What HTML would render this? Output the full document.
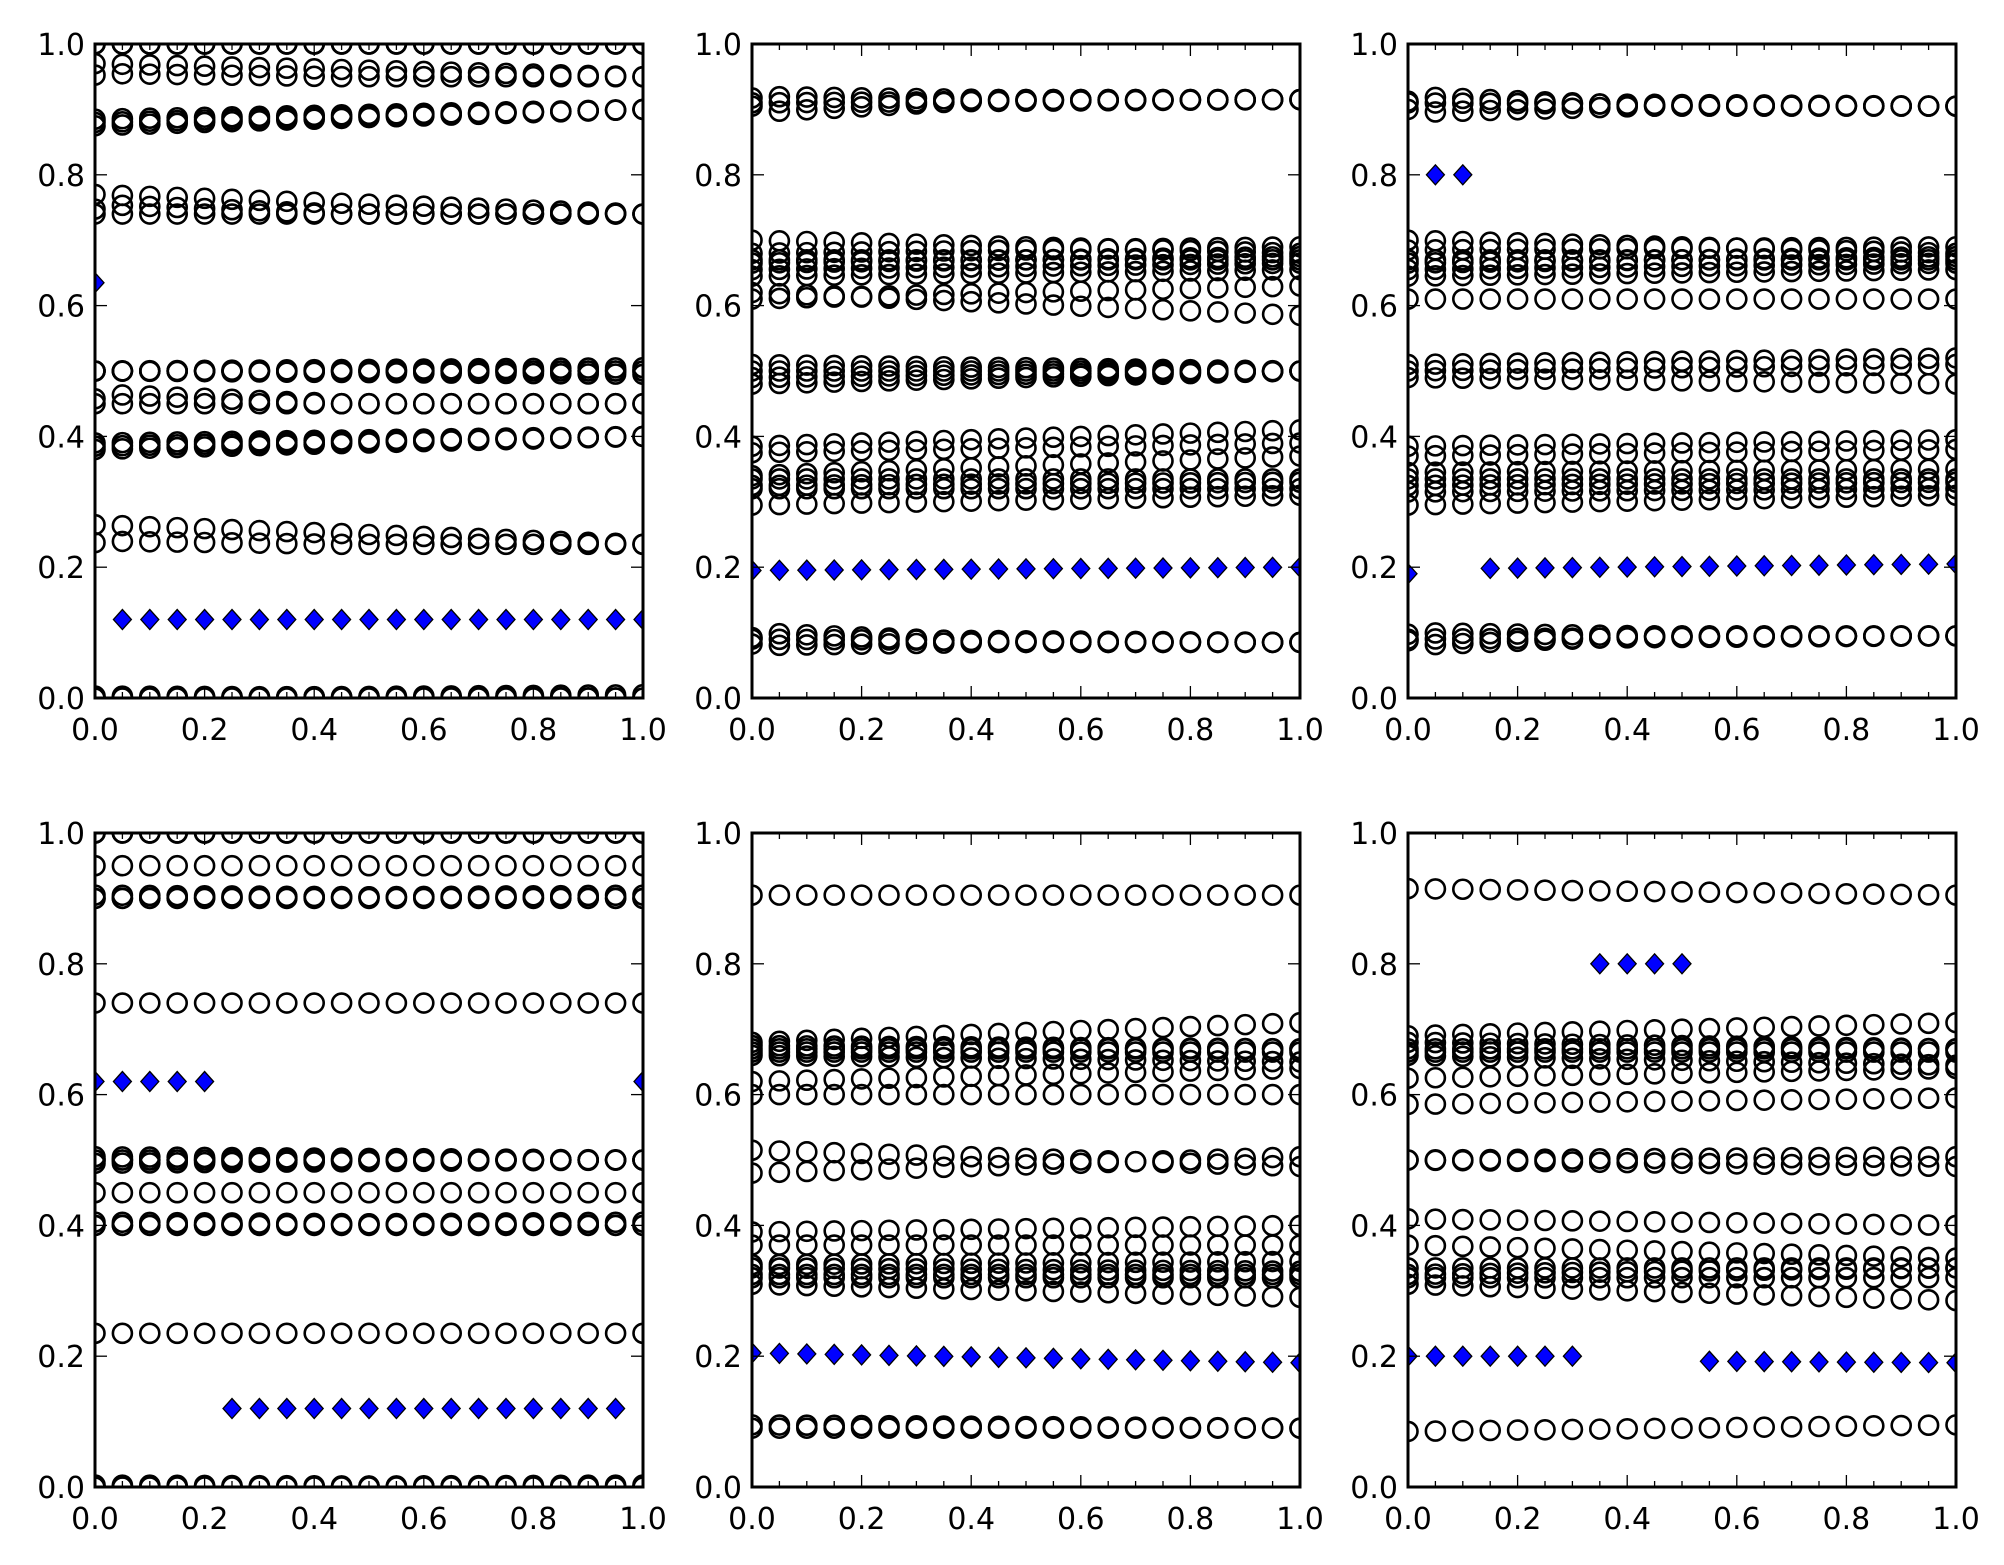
<!DOCTYPE html>
<html><head><meta charset="utf-8">
<style>html,body{margin:0;padding:0;background:#fff;}svg{display:block}</style>
</head><body>
<svg id="s" xmlns="http://www.w3.org/2000/svg" width="2004" height="1565" viewBox="0 0 2004 1565"></svg>
<script>
const NS="http://www.w3.org/2000/svg";
const svg=document.getElementById('s');
const W=548,H=654;
const panels=[
 {x:95,y:44,c:[[1,1],[1,1],[1,1],[0.97,0.95],[0.955,0.95,1],[0.88,0.9],[0.885,0.9],[0.875,0.9],[0.77,0.74],[0.755,0.74,1],[0.74,0.74,1],[0.5,0.5],[0.5,0.505],[0.5,0.495],[0.5,0.5],[0.465,0.45,1],[0.45,0.45],[0.385,0.4],[0.39,0.4],[0.38,0.4],[0.265,0.235],[0.24,0.235,1],[0,0],[0,0.005],[0.003,0]],
  d:[{y:[0.12,0.12],from:1,to:20},{y:[0.635,0.635],from:0,to:0}]},
 {x:752,y:44,c:[[0.91,0.915],[0.92,0.915,1],[0.895,0.915,1],[0.70,0.68],[0.68,0.69],[0.67,0.67],[0.665,0.675],[0.655,0.665],[0.645,0.655],[0.61,0.63],[0.62,0.585],[0.51,0.5],[0.5,0.5],[0.49,0.5],[0.48,0.5],[0.385,0.41],[0.375,0.39],[0.34,0.37],[0.335,0.335],[0.325,0.33],[0.32,0.32],[0.295,0.31],[0.1,0.085,1],[0.08,0.085,1],[0.09,0.085]],
  d:[{y:[0.195,0.2],from:0,to:20}]},
 {x:1408,y:44,c:[[0.91,0.905],[0.92,0.905,1],[0.895,0.905,1],[0.70,0.68],[0.685,0.69],[0.67,0.67],[0.665,0.675],[0.655,0.665],[0.645,0.655],[0.61,0.61],[0.5,0.51],[0.51,0.52],[0.49,0.48],[0.385,0.395],[0.37,0.38],[0.345,0.35],[0.335,0.335],[0.325,0.33],[0.315,0.32],[0.295,0.31],[0.1,0.095,1],[0.08,0.095,1],[0.09,0.095]],
  d:[{y:[0.8,0.8],from:1,to:2},{y:[0.19,0.19],from:0,to:0},{y:[0.197,0.205],from:3,to:20}]},
 {x:95,y:833,c:[[1,1],[1,1],[1,1],[0.95,0.95],[0.9,0.9],[0.905,0.9],[0.9,0.905],[0.74,0.74],[0.5,0.5],[0.505,0.5],[0.495,0.5],[0.5,0.5],[0.45,0.45],[0.4,0.4],[0.405,0.4],[0.4,0.405],[0.235,0.235],[0,0],[0.003,0],[0,0.003]],
  d:[{y:[0.62,0.62],from:0,to:4},{y:[0.62,0.62],from:20,to:20},{y:[0.12,0.12],from:5,to:19}]},
 {x:752,y:833,c:[[0.905,0.905],[0.68,0.71],[0.675,0.67],[0.67,0.67],[0.665,0.665],[0.66,0.65],[0.62,0.64],[0.6,0.6],[0.515,0.49],[0.48,0.505],[0.39,0.4],[0.37,0.37],[0.34,0.345],[0.335,0.33],[0.325,0.325],[0.32,0.32],[0.31,0.29],[0.09,0.09],[0.095,0.09]],
  d:[{y:[0.205,0.19],from:0,to:20}]},
 {x:1408,y:833,c:[[0.915,0.905],[0.69,0.71],[0.68,0.67],[0.67,0.67],[0.665,0.665],[0.66,0.645],[0.625,0.64],[0.585,0.595],[0.5,0.505],[0.5,0.49],[0.41,0.4],[0.37,0.35],[0.335,0.335],[0.325,0.335],[0.32,0.32],[0.31,0.285],[0.085,0.095]],
  d:[{y:[0.2,0.2],from:0,to:6},{y:[0.8,0.8],from:7,to:10},{y:[0.195,0.19],from:11,to:20}]}
];
function el(t,a,p){const e=document.createElementNS(NS,t);for(const k in a)e.setAttribute(k,a[k]);(p||svg).appendChild(e);return e;}
panels.forEach((p,i)=>{
  const defs=el('defs',{});const cp=el('clipPath',{id:'c'+i},defs);el('rect',{x:p.x,y:p.y,width:W,height:H},cp);
  const g=el('g',{'clip-path':'url(#c'+i+')'});
  const X=v=>p.x+v*W, Y=v=>p.y+H-v*H;
  p.c.forEach(s=>{
    for(let k=0;k<=20;k++){
      const t=k/20;let v;
      if(s[2]){
        const f=Math.min(1,t/0.45);v=s[0]+(s[1]-s[0])*f;
        if(k==0)v=(s[0]+s[1])/2;
      } else v=s[0]+(s[1]-s[0])*t;
      el('circle',{cx:X(t),cy:Y(v),r:9.5,fill:'none',stroke:'#000','stroke-width':2.6},g);
    }
  });
  p.d.forEach(d=>{
    for(let k=d.from;k<=d.to;k++){
      const t=k/20,v=d.y[0]+(d.y[1]-d.y[0])*t;const cx=X(t),cy=Y(v);
      el('polygon',{points:`${cx-9},${cy} ${cx},${cy-10} ${cx+9},${cy} ${cx},${cy+10}`,fill:'#0000ff',stroke:'#000','stroke-width':1.3},g);
    }
  });
  for(let k=0;k<=20;k++){const x=X(k/20),L=(k%4==0)?12:6;
    el('line',{x1:x,y1:p.y,x2:x,y2:p.y+L,stroke:'#000','stroke-width':1.3});
    el('line',{x1:x,y1:p.y+H,x2:x,y2:p.y+H-L,stroke:'#000','stroke-width':1.3});}
  for(let k=0;k<=5;k++){const y=Y(k/5);
    el('line',{x1:p.x,y1:y,x2:p.x+12,y2:y,stroke:'#000','stroke-width':1.3});
    el('line',{x1:p.x+W,y1:y,x2:p.x+W-12,y2:y,stroke:'#000','stroke-width':1.3});
    const t=el('text',{x:p.x-10,y:y+11,'text-anchor':'end','font-family':'DejaVu Sans, Liberation Sans, sans-serif','font-size':30});t.textContent=(k/5).toFixed(1);
    const u=el('text',{x:X(k/5),y:p.y+H+42,'text-anchor':'middle','font-family':'DejaVu Sans, Liberation Sans, sans-serif','font-size':30});u.textContent=(k/5).toFixed(1);
  }
  el('rect',{x:p.x,y:p.y,width:W,height:H,fill:'none',stroke:'#000','stroke-width':3});
});
</script>
</body></html>
